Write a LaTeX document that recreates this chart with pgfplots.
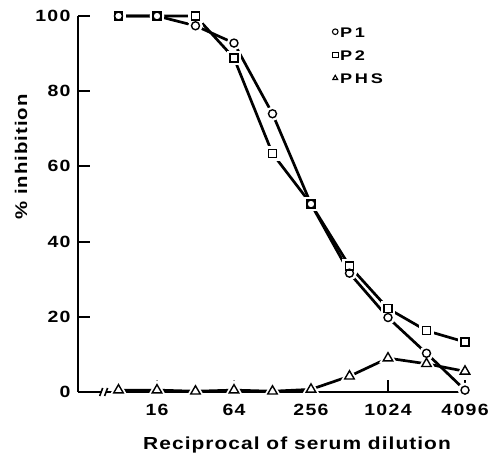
\documentclass[border=0pt]{standalone}
\usepackage{fontspec}
\setmainfont{Liberation Sans}[LetterSpace=8, FakeStretch=1.2]
\newfontfamily\labfont{Liberation Sans}[LetterSpace=6, FakeStretch=1.2]
\newfontfamily\legfont{Liberation Sans}[LetterSpace=20, FakeStretch=1.3]
\usepackage{pgfplots}
\usepackage{pgfplotstable}
\pgfplotsset{compat=1.18}
\pgfplotstableread{
x P1 P2 PHS
8 100 100 0.5
16 100 100 0.5
32 97.4 100 0.2
64 92.8 88.8 0.5
128 74.0 63.4 0.2
256 50 50 0.7
512 31.6 33.5 4.2
1024 19.8 22.2 9.0
2048 10.3 16.3 7.5
4096 0.5 13.3 5.5
}\datatab
\pgfplotsset{
 ser/.style={black, line width=2.7bp, mark=none, forget plot},
 halo/.style={only marks, forget plot, mark options={draw=white, fill=white, line width=3.5bp}},
 mk/.style={only marks, mark options={draw=black, fill=white, line width=1.4bp, solid},
   legend image code/.code={\draw[mark size=2.8bp, mark options={line width=1.1bp}] plot coordinates {(0.12cm,1.8bp)};}},
}
\begin{document}
\begin{tikzpicture}
\begin{axis}[
 scale only axis, width=387bp, height=376bp,
 at={(0,0)}, anchor=south west,
 xmode=log, log basis x=2, xmin=3.86, xmax=4096,
 ymin=0, ymax=100,
 axis lines=left, axis line style={-, line width=2bp},
 xtick={16,64,256,1024,4096}, xticklabels={16,64,256,1024,4096},
 xminorticks=false,
 ytick={0,20,40,60,80,100},
 tick align=inside, major tick length=12bp, tick style={line width=2bp, black},
 clip=false,
 /pgf/number format/assume math mode=true,
 tick label style={font=\bfseries\fontsize{16.3}{18}\selectfont},
 xticklabel style={yshift=-9bp},
 yticklabel style={xshift=-4bp},
 every axis x label/.style={at={(rel axis cs:0.566,-0.1516)}, anchor=base},
 every axis y label/.style={at={(rel axis cs:-0.147,0.625)}, rotate=90, anchor=center},
 label style={font=\labfont\bfseries\fontsize{17.5}{20}\selectfont},
 ylabel style={font=\labfont\bfseries\fontsize{17}{19}\selectfont},
 xlabel={Reciprocal of serum dilution},
 ylabel={\% inhibition},
 legend style={draw=none, fill=none, at={(rel axis cs:0.657,0.974)}, anchor=north west,
   font=\legfont\bfseries\fontsize{14}{16}\selectfont, row sep=8bp, inner sep=0pt,
   nodes={inner xsep=2bp}},
 legend cell align=left,
]
% axis break
\draw[white, line width=5bp] (axis cs:5.86,0) -- (axis cs:6.4,0);
\draw[black, line width=1.6bp] (axis cs:5.86,0) ++(-1.5bp,-4bp) -- ++(3bp,8bp);
\draw[black, line width=1.6bp] (axis cs:6.4,0) ++(-1.5bp,-4bp) -- ++(3bp,8bp);
% lines
\addplot[ser] table[x=x,y=P1] {\datatab};
\addplot[ser] table[x=x,y=P2] {\datatab};
\addplot[ser] table[x=x,y=PHS] {\datatab};
% halos
\addplot[halo, mark=*, mark size=5.5bp] table[x=x,y=P1] {\datatab};
\addplot[halo, mark=square*, mark size=5.5bp] table[x=x,y=P2] {\datatab};
\addplot[halo, mark=triangle*, mark size=7bp] table[x=x,y=PHS] {\datatab};
% marks
\addplot[mk, mark=o, mark size=4bp] table[x=x,y=P1] {\datatab};
\addlegendentry{P1}
\addplot[mk, mark=square, mark size=4bp] table[x=x,y=P2] {\datatab};
\addlegendentry{P2}
\addplot[mk, mark=triangle, mark size=5.5bp] table[x=x,y=PHS] {\datatab};
\addlegendentry{PHS}
\end{axis}
\pgfresetboundingbox
\path (-78bp,-61bp) rectangle (414bp,392bp);
\end{tikzpicture}
\end{document}
